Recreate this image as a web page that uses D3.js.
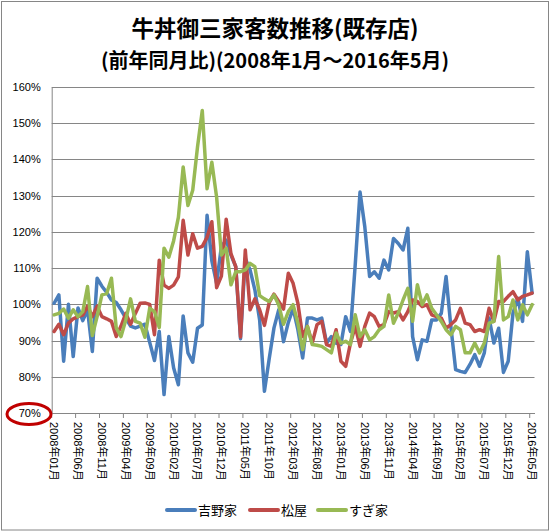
<!DOCTYPE html>
<html>
<head>
<meta charset="utf-8">
<script src="https://cdn.jsdelivr.net/npm/d3@7"></script>
<style>
  body { margin: 0; background: #fff; }
  svg { display: block; font-family: "Liberation Sans", "Noto Sans CJK JP", sans-serif; }
</style>
</head>
<body>
<div id="chart"></div>
<script>
// 前年同月比 (%) 2008年1月 ～ 2016年5月
const months = d3.timeMonths(new Date(2008, 0, 1), new Date(2016, 5, 1));
const categories = months.map(d => d3.timeFormat('%Y年%m月')(d));

const yoshinoya = [
  100.3, 102.6, 84.3, 100, 85.6, 99, 95.5, 98.5, 87, 107.2, 105, 103.3,
  101.2, 100.5, 98.5, 96.2, 94, 93.5, 94, 94.5, 89.5, 84.5, 92.5, 75.1,
  91.1, 82.5, 77.8, 96.8, 86.6, 84, 93.4, 94.3, 124.6, 112, 105.8, 116,
  117.7, 113.6, 110.4, 90.5, 112.7, 109.5, 104, 95.7, 76, 85, 93.5, 98.5,
  89.7, 95, 98.9, 93, 85.2, 96.2, 96.2, 95.7, 96.2, 89.3, 91.1, 89.3,
  88.9, 96.6, 92.5, 111, 131, 121.4, 107.7, 109, 107.2, 112.2, 109.5, 118.2,
  116.8, 115, 121, 91.1, 84.7, 90.2, 89.8, 95.7, 95.7, 97.5, 107.7, 93.9,
  82, 81.5, 81.2, 83.4, 86.1, 82.9, 86.6, 96.2, 89.3, 93.4, 81.2, 84.3,
  97.6, 101.7, 95.3, 114.5, 103.1
];
const matsuya = [
  92.5, 94.5, 91.6, 94.8, 96, 96.6, 97, 99.5, 96.6, 99.5, 96.6, 96,
  95.3, 91.1, 94, 97.5, 94.5, 97.5, 100.3, 100.4, 100, 91.6, 112.2, 105.3,
  104.4, 105.3, 107.6, 123.2, 113.6, 119.5, 115.5, 116, 118.5, 122.8, 104.6, 107.8,
  123.5, 114, 110.4, 91, 115, 98.5, 101.5, 98.5, 94.2, 100.5, 102.8, 100.8,
  98.7, 108.6, 105.8, 100.3, 91.1, 93.9, 89.3, 94.4, 95.3, 88.9, 88.4, 93,
  84.3, 82.9, 89.3, 93.9, 88.4, 93.9, 97.6, 96.6, 93.9, 94.4, 98, 97.6,
  98, 95.7, 98, 101.2, 100.8, 99.4, 99.9, 97.1, 96.6, 96.2, 93.4, 94.4,
  95.7, 98.9, 94.8, 94.4, 92.5, 93, 92.5, 98.9, 95.3, 100.8, 100.8, 102.2,
  103.5, 101.2, 102.2, 102.6, 103.1
];
const sukiya = [
  97.1, 97.5, 98.7, 96.2, 98.5, 96.6, 98, 104.9, 91.4, 96.6, 102.6, 103,
  107.2, 93.5, 91.1, 95.7, 101.5, 95.3, 94.8, 90.9, 98.9, 98, 93.6, 115.5,
  113, 117.5, 124, 137.9, 127.3, 131.5, 143.4, 153.5, 131.9, 139.2, 129.6, 113.6,
  115.5, 105.4, 109, 109, 109.5, 111.3, 110.4, 102.4, 101.5, 100.8, 102.6, 99.8,
  94.5, 98, 99.9, 94.8, 87.5, 93.9, 88.9, 88.7, 88.4, 87.5, 86.6, 92.1,
  89.3, 89.8, 88.9, 97.1, 91.1, 93, 90.2, 91.1, 93, 93.9, 102.6, 94.8,
  97.6, 101.2, 104.4, 95.3, 105.4, 99.9, 102.6, 98.9, 97.1, 95.3, 93, 91.6,
  93.9, 93, 86.6, 86.6, 89.3, 86.6, 89.3, 94.8, 95.3, 113.2, 95.7, 96.6,
  101.2, 95.7, 99.9, 97.1, 99.9
];

const seriesNames = ['吉野家', '松屋', 'すぎ家'];
const seriesValues = [yoshinoya, matsuya, sukiya];
const yTicks = [70, 80, 90, 100, 110, 120, 130, 140, 150, 160];

const colors = ['#4a7ebb', '#be4b48', '#98b954'];
const gridColor = '#868686';

const width = 551;
const height = 532;
const plotBox = { left: 51.7, right: 534.5, top: 87, bottom: 413 };

const svg = d3.select('#chart')
  .append('svg')
  .attr('width', width)
  .attr('height', height);

// outer frame
svg.append('rect')
  .attr('x', 1.5).attr('y', 1.5)
  .attr('width', 547).attr('height', 528.5)
  .attr('fill', '#fff')
  .attr('stroke', gridColor)
  .attr('stroke-width', 1);

// titles
svg.append('text')
  .attr('x', 275).attr('y', 37)
  .attr('text-anchor', 'middle')
  .style('font-family', '"Noto Sans CJK JP", sans-serif')
  .style('font-weight', 'bold')
  .style('font-size', '22.5px')
  .text('牛丼御三家客数推移(既存店)');

svg.append('text')
  .attr('x', 275).attr('y', 68)
  .attr('text-anchor', 'middle')
  .style('font-family', '"Noto Sans CJK JP", sans-serif')
  .style('font-weight', 'bold')
  .style('font-size', '20px')
  .text('(前年同月比)(2008年1月～2016年5月)');

const xScale = d3.scaleBand()
  .domain(categories)
  .range([plotBox.left, plotBox.right])
  .padding(0);

const yScale = d3.scaleLinear()
  .domain([70, 160])
  .range([plotBox.bottom, plotBox.top]);

const bw = xScale.bandwidth();
const xMid = c => xScale(c) + bw / 2;

// horizontal gridlines
svg.append('g')
  .selectAll('line')
  .data(yTicks.slice(1))
  .enter()
  .append('line')
  .attr('x1', plotBox.left)
  .attr('x2', plotBox.right)
  .attr('y1', d => Math.round(yScale(d)) + 0.5)
  .attr('y2', d => Math.round(yScale(d)) + 0.5)
  .attr('stroke', gridColor)
  .attr('stroke-width', 1);

// y axis
const yAxis = d3.axisLeft(yScale)
  .tickValues(yTicks)
  .tickSize(0)
  .tickPadding(11)
  .tickFormat(d => d + '%');

const yg = svg.append('g')
  .attr('transform', `translate(${plotBox.left}, 0)`)
  .call(yAxis);
yg.select('.domain').attr('stroke', gridColor);
yg.selectAll('text')
  .attr('fill', '#000')
  .style('font-family', '"Liberation Sans", sans-serif')
  .style('font-size', '11px');

// x axis: ticks on category boundaries every 5 months
const every5 = categories.filter((d, i) => i % 5 === 0);
const xAxis = d3.axisBottom(xScale)
  .tickValues(every5)
  .tickSize(5)
  .tickSizeOuter(0)
  .tickPadding(0);

const xg = svg.append('g')
  .attr('transform', `translate(0, ${plotBox.bottom})`)
  .call(xAxis);
xg.select('.domain').attr('stroke', gridColor);
xg.selectAll('.tick line')
  .attr('x1', -bw / 2).attr('x2', -bw / 2)
  .attr('stroke', gridColor);
xg.selectAll('.tick text')
  .attr('transform', 'translate(0, 9) rotate(90)')
  .attr('x', 0).attr('y', 0).attr('dy', null)
  .attr('text-anchor', 'start')
  .attr('dominant-baseline', 'central')
  .attr('fill', '#000')
  .style('font-family', '"Liberation Sans", "Noto Sans CJK JP", sans-serif')
  .style('font-size', '11px');

// lines
const line = d3.line()
  .x((d, i) => xMid(categories[i]))
  .y(d => yScale(d));

svg.append('g')
  .selectAll('path')
  .data(seriesValues)
  .enter()
  .append('path')
  .attr('d', d => line(d))
  .attr('fill', 'none')
  .attr('stroke', (d, i) => colors[i])
  .attr('stroke-width', 3.5)
  .attr('stroke-linejoin', 'round')
  .attr('stroke-linecap', 'round');

// red circle around 70%
svg.append('ellipse')
  .attr('cx', 29).attr('cy', 414)
  .attr('rx', 22).attr('ry', 10.5)
  .attr('fill', 'none')
  .attr('stroke', '#c00000')
  .attr('stroke-width', 3);

// legend
const legendX = [167, 250, 318];
const legend = svg.append('g')
  .selectAll('g')
  .data(seriesNames)
  .enter()
  .append('g')
  .attr('transform', (d, i) => `translate(${legendX[i]}, 510)`);

legend.append('line')
  .attr('x1', 0).attr('x2', 28)
  .attr('stroke', (d, i) => colors[i])
  .attr('stroke-width', 4)
  .attr('stroke-linecap', 'round');

legend.append('text')
  .attr('x', 31)
  .attr('y', 5)
  .style('font-family', '"Noto Sans CJK JP", sans-serif')
  .style('font-size', '13px')
  .text(d => d);
</script>
</body>
</html>
